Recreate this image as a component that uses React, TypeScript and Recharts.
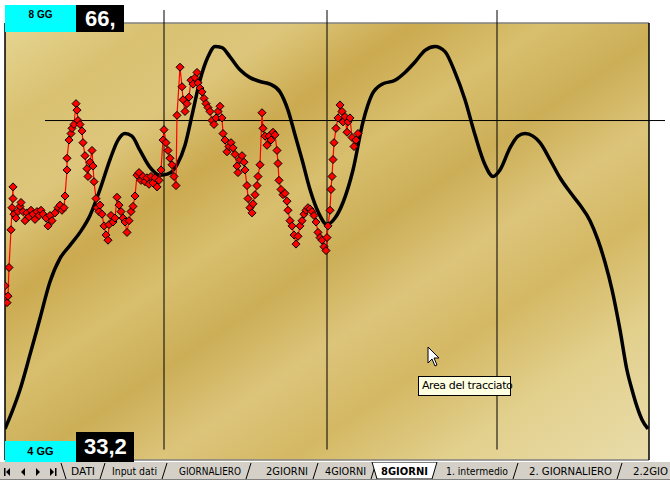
import React from "react";
import {
  ComposedChart,
  Line,
  XAxis,
  YAxis,
  ReferenceArea,
  ReferenceLine,
} from "recharts";

// daily quotes [day, price]
const dailyQuotes: [number, number][] = [
  [0, 45.8], [0.5, 44.9], [1, 44.5], [1.5, 45.0], [2, 47.2], [3, 50.1], [4, 53.4], [4, 52.5],
  [3.5, 51.8], [4.5, 51.3], [5.5, 51.0], [6.5, 51.5], [7.5, 51.9], [8, 52.2], [9, 51.5], [10, 50.8],
  [11, 51.4], [12, 51.1], [13, 51.6], [14, 51.3], [15, 50.9], [16, 51.5], [17, 51.2], [18, 51.6],
  [19, 51.3], [20.5, 51.0], [21.5, 50.4], [22.5, 51.2], [23.5, 50.8], [25, 51.4], [26.5, 51.8],
  [27.5, 52.0], [28.5, 51.6], [29.5, 51.8], [30, 52.7], [31, 54.7], [31, 55.6], [32, 57.0],
  [33, 57.5], [33.5, 57.9], [34.5, 58.2], [35.5, 59.8], [36, 59.3], [36.5, 58.5], [37.5, 58.2],
  [38.5, 57.7], [39, 56.8], [40, 55.8], [41, 54.8], [41.5, 54.2], [42.5, 55.3], [43.5, 56.2],
  [44, 55.0], [44.5, 53.8], [45.5, 52.5], [46, 51.8], [47, 51.5], [47.5, 52.0], [48.5, 51.3],
  [49.5, 50.4], [50.5, 49.7], [51.5, 49.3], [52, 50.5], [53, 51.2], [54, 50.7], [55, 51.0],
  [56, 52.6], [57, 52.0], [58, 51.5], [59, 51.0], [60, 50.7], [61, 49.9], [62, 50.8], [63, 51.5],
  [64, 51.9], [65, 52.7], [66, 54.3], [67, 54.5], [68, 53.9], [69, 54.2], [70, 53.8], [71, 54.1],
  [72, 53.6], [73, 54.2], [74, 53.7], [75, 54.1], [76, 53.4], [77, 53.9], [78, 54.7], [79, 57.0],
  [79.5, 57.8], [80.5, 56.8], [81.5, 56.2], [82.5, 55.6], [83.5, 55.1], [84.5, 54.2], [85.5, 53.5],
  [86, 58.9], [87.5, 62.6], [88.5, 61.1], [89, 60.1], [90, 59.2], [91, 59.8], [92, 60.3], [93, 61.6],
  [94, 61.3], [95, 61.8], [96, 62.2], [96.5, 61.4], [97.5, 61.0], [98.5, 60.7], [99.5, 60.2],
  [100.5, 59.8], [101.5, 59.5], [102.5, 59.2], [103.5, 58.5], [104.5, 58.2], [105.5, 58.7],
  [106.5, 59.2], [107.5, 59.6], [108.5, 58.7], [109, 57.5], [110, 57.0], [111, 56.1], [112, 56.5],
  [113, 56.8], [114, 56.4], [115, 55.9], [116, 55.0], [116.5, 54.5], [117.5, 55.5], [118.5, 55.8],
  [119.5, 55.3], [120, 54.7], [121, 53.5], [121.5, 52.5], [122.5, 51.8], [123.5, 51.4], [124, 52.1],
  [125, 52.8], [126, 53.5], [126.5, 54.2], [127.5, 55.1], [128.5, 59.1], [129, 57.9], [130, 57.3],
  [131, 56.6], [132, 57.3], [133, 57.0], [134, 57.6], [135, 57.4], [136, 56.2], [136.5, 55.2],
  [137, 53.9], [138, 53.2], [139, 52.8], [140, 52.9], [141, 52.3], [141.5, 51.6], [142.5, 50.8],
  [143.5, 50.4], [144.5, 49.7], [145.5, 49.0], [146.5, 49.6], [147.5, 50.4], [148.5, 50.8],
  [149.5, 51.3], [150.5, 51.6], [151.5, 51.8], [152.5, 51.7], [153.5, 51.5], [154.5, 51.2],
  [155.5, 50.7], [156.5, 49.9], [157.5, 49.5], [158.5, 49.3], [159.5, 48.8], [160.5, 48.5],
  [161, 49.5], [161.5, 50.4], [162.5, 51.6], [163, 53.2], [163.5, 54.2], [164, 55.5], [164.5, 56.8],
  [165.5, 57.9], [166.5, 58.7], [167.5, 59.7], [168.5, 59.2], [169, 58.4], [170, 58.8], [171, 57.6],
  [171.5, 58.4], [172.5, 58.7], [173.5, 57.2], [174.5, 56.5], [175.5, 57.0], [176.5, 57.5],
];

// 8-day cycle curve [day, value]
const cycleCurve: [number, number][] = [
  [0, 34.8], [3.5, 36.1], [7.5, 37.8], [12.5, 40.5], [17.5, 43.3], [22.5, 46.1], [27.5, 47.9],
  [32.5, 48.9], [37.5, 49.9], [42.5, 51.2], [47.5, 53.2], [52.5, 55.5], [56.5, 57.0], [60, 57.5],
  [63.5, 57.3], [67.5, 56.2], [72.5, 54.9], [77.5, 54.3], [81.5, 54.4], [86, 55.1], [90, 56.6],
  [93.5, 58.9], [97.5, 61.6], [101.5, 63.4], [105, 64.2], [108.5, 64.1], [112.5, 63.4],
  [117.5, 62.4], [122.5, 61.8], [127.5, 61.5], [132.5, 61.3], [137.5, 60.7], [141.5, 59.3],
  [145, 57.4], [148.5, 55.5], [152.5, 53.2], [156.5, 51.5], [161, 50.5], [165, 51.0], [169, 52.2],
  [174, 54.7], [179, 58.4], [183.5, 60.5], [188.5, 61.3], [195, 61.6], [200, 62.2], [205, 63.0],
  [210, 63.9], [215, 64.2], [220, 63.8], [225, 62.2], [230, 60.1], [235, 57.4], [240, 55.1],
  [244, 54.2], [247.5, 54.7], [252.5, 56.4], [256.5, 57.3], [260, 57.5], [264, 57.3], [267.5, 56.8],
  [272.5, 55.5], [277.5, 54.1], [282.5, 53.0], [287.5, 52.0], [292.5, 50.8], [296.5, 49.3],
  [300, 47.6], [303.5, 45.5], [307.5, 42.4], [311, 39.3], [313.5, 37.8], [316, 36.5], [318.5, 35.5],
  [321.5, 34.8],
];

const cycleMarks = [79.5, 161, 246];
const levelPrice = 58.5;
const dayRange = [0, 322];
const priceRange = [32.4, 66];

const topBox = { period: "8 GG", value: "66," };
const bottomBox = { period: "4 GG", value: "33,2" };

const sheetTabs = [
  { name: "DATI", x: 71, w: 24 },
  { name: "Input dati", x: 112, w: 45 },
  { name: "GIORNALIERO", x: 179, w: 62 },
  { name: "2GIORNI", x: 266, w: 42 },
  { name: "4GIORNI", x: 325, w: 41 },
  { name: "8GIORNI", x: 381, w: 47, active: true },
  { name: "1. intermedio", x: 446, w: 62 },
  { name: "2. GIORNALIERO", x: 529, w: 83 },
  { name: "2.2GIO", x: 633, w: 35 },
];

const dailyData = dailyQuotes.map(([day, price]) => ({ day, price }));
const curveData = cycleCurve.map(([day, value]) => ({ day, value }));

const Diamond = (props: any) => {
  const { cx, cy, index } = props;
  if (cx == null || cy == null) return <g key={`d-${index}`} />;
  const r = 4;
  return (
    <polygon
      key={`d-${index}`}
      points={`${cx},${cy - r} ${cx + r},${cy} ${cx},${cy + r} ${cx - r},${cy}`}
      fill="#ff0000"
      stroke="#000"
      strokeWidth={1}
    />
  );
};

const TabBar = () => (
  <svg width={670} height={18} style={{ position: "absolute", left: 0, top: 462 }}>
    <rect x={0} y={0} width={670} height={18} fill="#d4d0c8" />
    {/* nav arrows */}
    <g fill="#000">
      <rect x={4} y={6} width={1.5} height={8} />
      <polygon points="10,6 10,14 6,10" />
      <polygon points="25,6 25,14 21,10" />
      <polygon points="36,6 36,14 40,10" />
      <polygon points="50,6 50,14 54,10" />
      <rect x={55} y={6} width={1.5} height={8} />
    </g>
    <line x1={61} y1={1} x2={66} y2={17} stroke="#000" />
    {sheetTabs.map((t) =>
      t.active ? (
        <g key={t.name}>
          <polygon
            points={`${t.x - 9},0 ${t.x - 4},17 ${t.x + t.w + 4},17 ${t.x + t.w + 9},0`}
            fill="#fff"
            stroke="#000"
          />
        </g>
      ) : (
        <line
          key={t.name}
          x1={t.x + t.w + 5}
          y1={17}
          x2={t.x + t.w + 10}
          y2={1}
          stroke="#000"
        />
      )
    )}
    <line x1={0} y1={17.5} x2={670} y2={17.5} stroke="#808080" />
    {sheetTabs.map((t) => (
      <text
        key={`t-${t.name}`}
        x={t.x}
        y={13}
        fontSize={11}
        fontFamily="'DejaVu Sans', sans-serif"
        fontWeight={t.active ? 700 : 400}
        textLength={t.w}
        lengthAdjust="spacingAndGlyphs"
        fill="#000"
      >
        {t.name}
      </text>
    ))}
  </svg>
);

export default function App() {
  return (
    <div
      style={{
        position: "absolute",
        left: 0,
        top: 0,
        width: 670,
        height: 480,
        background: "#fff",
        overflow: "hidden",
        fontFamily: "'Liberation Sans', Arial, sans-serif",
      }}
    >
      <ComposedChart
        width={670}
        height={480}
        margin={{ top: 23, right: 21, bottom: 20, left: 5 }}
      >
        <defs>
          <linearGradient id="gold" x1="0" y1="0" x2="1" y2="1">
            <stop offset="0%" stopColor="#e6d592" />
            <stop offset="12%" stopColor="#d9c171" />
            <stop offset="22%" stopColor="#ddc67b" />
            <stop offset="32%" stopColor="#cbaa50" />
            <stop offset="42%" stopColor="#d8bf6e" />
            <stop offset="52%" stopColor="#ccae57" />
            <stop offset="62%" stopColor="#dcc47a" />
            <stop offset="72%" stopColor="#d4b864" />
            <stop offset="84%" stopColor="#e2d08d" />
            <stop offset="100%" stopColor="#e9dcaa" />
          </linearGradient>
        </defs>
        <XAxis type="number" dataKey="day" domain={dayRange} hide allowDataOverflow />
        <YAxis type="number" domain={priceRange} hide allowDataOverflow />
        <ReferenceArea
          x1={dayRange[0]}
          x2={dayRange[1]}
          y1={priceRange[0]}
          y2={priceRange[1]}
          fill="url(#gold)"
          fillOpacity={1}
          stroke="none"
        />
        <ReferenceLine y={priceRange[1]} stroke="#808080" strokeWidth={1.5} />
        <ReferenceLine y={priceRange[0]} stroke="#808080" strokeWidth={1.5} />
        <ReferenceLine x={dayRange[0]} stroke="#000" strokeWidth={1.5} />
        <ReferenceLine x={dayRange[1]} stroke="#000" strokeWidth={1.5} />
        {cycleMarks.map((d) => (
          <ReferenceLine
            key={`m-${d}`}
            segment={[
              { x: d, y: 67 },
              { x: d, y: 33.2 },
            ]}
            stroke="#000"
            strokeWidth={1}
            ifOverflow="visible"
          />
        ))}
        <ReferenceLine
          segment={[
            { x: 20, y: levelPrice },
            { x: 330, y: levelPrice },
          ]}
          stroke="#000"
          strokeWidth={1}
          ifOverflow="visible"
        />
        <Line
          data={curveData}
          dataKey="value"
          type="monotone"
          stroke="#000"
          strokeWidth={3.5}
          dot={false}
          isAnimationActive={false}
        />
        <Line
          data={dailyData}
          dataKey="price"
          type="linear"
          stroke="#ff0000"
          strokeWidth={1.2}
          dot={<Diamond />}
          isAnimationActive={false}
        />
      </ComposedChart>

      {/* value boxes */}
      <div style={{ position: "absolute", left: 5, top: 5, width: 71, height: 27, background: "#00ffff", fontSize: 10, fontWeight: 700, textAlign: "center", lineHeight: "20px" }}>
        {topBox.period}
      </div>
      <div style={{ position: "absolute", left: 76, top: 5, width: 48, height: 27, background: "#000", color: "#fff", fontSize: 22, fontWeight: 700, lineHeight: "27px", paddingLeft: 9, boxSizing: "border-box" }}>
        {topBox.value}
      </div>
      <div style={{ position: "absolute", left: 5, top: 441, width: 71, height: 21, background: "#00ffff", fontSize: 11, fontWeight: 700, textAlign: "center", lineHeight: "21px" }}>
        {bottomBox.period}
      </div>
      <div style={{ position: "absolute", left: 76, top: 432, width: 58, height: 30, background: "#000", color: "#fff", fontSize: 22, fontWeight: 700, lineHeight: "30px", paddingLeft: 8, boxSizing: "border-box" }}>
        {bottomBox.value}
      </div>

      {/* mouse pointer + hint */}
      <svg width={16} height={22} style={{ position: "absolute", left: 427, top: 346 }}>
        <polygon points="1,1 1,17 5,13 8,20 10,19 7,12 12,12" fill="#fff" stroke="#000" strokeWidth={1} />
      </svg>
      <div style={{ position: "absolute", left: 418, top: 376, width: 93, height: 20, background: "#ffffe1", border: "1px solid #000", boxSizing: "border-box", fontSize: 11, lineHeight: "18px", paddingLeft: 3, whiteSpace: "nowrap", fontFamily: "'DejaVu Sans', sans-serif", letterSpacing: -0.4 }}>
        Area del tracciato
      </div>

      <TabBar />
    </div>
  );
}
